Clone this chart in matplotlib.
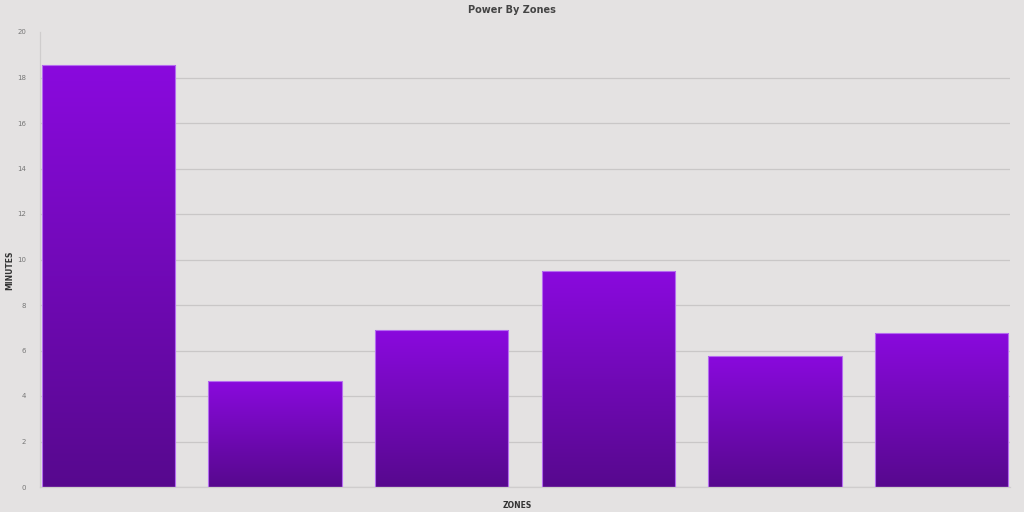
"""Power By Zones: minutes spent in each power zone, purple gradient bars."""
import matplotlib
matplotlib.use("Agg")
import matplotlib.pyplot as plt
import numpy as np
from matplotlib.colors import LinearSegmentedColormap

# ── Data ─────────────────────────────────────────────────────────────
zones = ["Z1", "Z2", "Z3", "Z4", "Z5", "Z6"]
minutes = [18.55, 4.66, 6.90, 9.49, 5.76, 6.77]
y_ticks = [0, 2, 4, 6, 8, 10, 12, 14, 16, 18, 20]

bg = "#e4e2e2"
grid_c = "#c9c7c7"
c_top = "#8a0ade"
c_bottom = "#57088e"
grad = LinearSegmentedColormap.from_list("purple", [c_bottom, c_top])

fig = plt.figure(figsize=(10.24, 5.12), dpi=100)
fig.patch.set_facecolor(bg)
ax = fig.add_axes([40 / 1024, 1 - 487 / 512, 970 / 1024, 455 / 512])
ax.set_facecolor(bg)

x = np.arange(len(zones))
bars = ax.bar(x, minutes, width=0.8, color="none", edgecolor="#b56cf0",
              linewidth=0.8, zorder=3)

# vertical gradient inside each bar
g = np.linspace(0, 1, 256).reshape(-1, 1)
for b in bars:
    x0, w, h = b.get_x(), b.get_width(), b.get_height()
    im = ax.imshow(g, cmap=grad, origin="lower", aspect="auto",
                   extent=[x0, x0 + w, 0, h], zorder=2)
    im.set_clip_path(b)

ax.set_xlim(-0.41, len(zones) - 0.59)
ax.set_ylim(0, 20)
ax.set_yticks(y_ticks)
ax.set_xticks([])
ax.tick_params(axis="y", length=0, pad=10, labelsize=5, labelcolor="#777777")

ax.grid(axis="y", color=grid_c, linewidth=0.9, zorder=0)
ax.set_axisbelow(True)
ax.get_ygridlines()[-1].set_visible(False)

for s in ["top", "right"]:
    ax.spines[s].set_visible(False)
ax.spines["left"].set_color("#cfcdcd")
ax.spines["bottom"].set_color("#cfcdcd")
ax.spines["left"].set_linewidth(0.9)
ax.spines["bottom"].set_linewidth(0.9)

fig.text(0.5, 1 - 10 / 512, "Power By Zones", ha="center", va="center",
         fontsize=7, fontweight="bold", color="#444444")
fig.text(10 / 1024, 1 - 270 / 512, "MINUTES", ha="center", va="center",
         rotation=90, fontsize=5.5, fontweight="bold", color="#333333")
fig.text(517 / 1024, 1 - 506 / 512, "ZONES", ha="center", va="center",
         fontsize=5.5, fontweight="bold", color="#333333")

fig.savefig("out.png", dpi=100, facecolor=bg)
